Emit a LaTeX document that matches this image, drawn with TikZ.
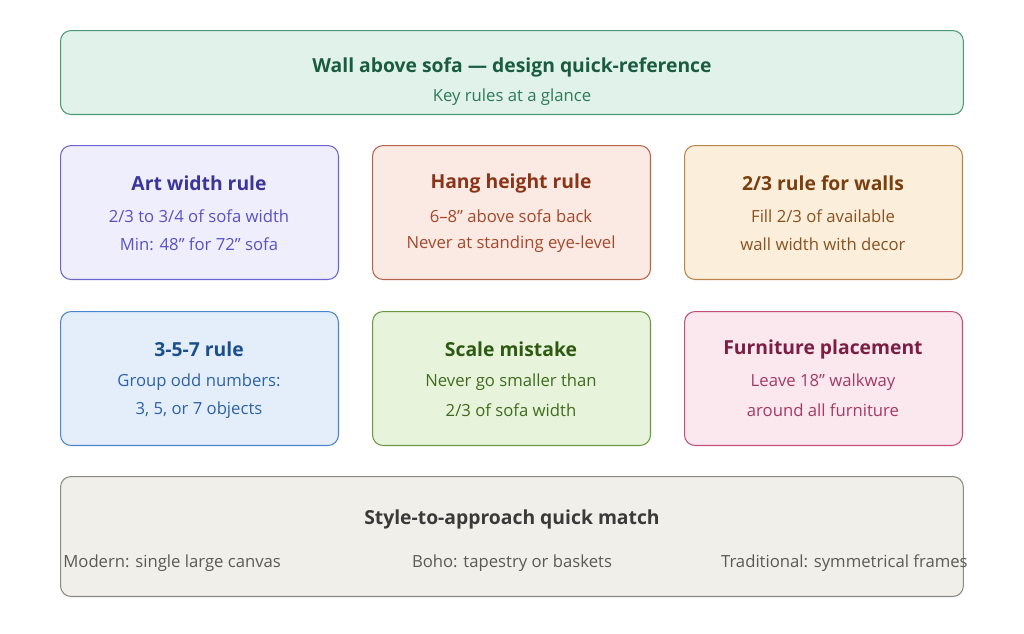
\documentclass[tikz,border=0pt]{standalone}
\usepackage{fontspec}
\setmainfont{Open Sans}
\usetikzlibrary{positioning}
\definecolor{hdfill}{HTML}{E0F2EA}\definecolor{hddraw}{HTML}{4A9A78}\definecolor{hdtitle}{HTML}{1A5C40}\definecolor{hdtext}{HTML}{2E7A58}
\definecolor{pufill}{HTML}{EFEEFD}\definecolor{pudraw}{HTML}{6B63D0}\definecolor{putitle}{HTML}{3C3599}\definecolor{putext}{HTML}{5A52C4}
\definecolor{rdfill}{HTML}{FBEAE4}\definecolor{rddraw}{HTML}{B5644A}\definecolor{rdtitle}{HTML}{8A3418}\definecolor{rdtext}{HTML}{A4482A}
\definecolor{orfill}{HTML}{FBEEDB}\definecolor{ordraw}{HTML}{B8864A}\definecolor{ortitle}{HTML}{7A3F0F}\definecolor{ortext}{HTML}{8A5220}
\definecolor{blfill}{HTML}{E4EEFB}\definecolor{bldraw}{HTML}{4A84CC}\definecolor{bltitle}{HTML}{1A4F8C}\definecolor{bltext}{HTML}{2C62A8}
\definecolor{grfill}{HTML}{E8F3DC}\definecolor{grdraw}{HTML}{6A9A40}\definecolor{grtitle}{HTML}{2D5A10}\definecolor{grtext}{HTML}{3F6B1E}
\definecolor{pkfill}{HTML}{FBE8EF}\definecolor{pkdraw}{HTML}{C0507A}\definecolor{pktitle}{HTML}{7A1E42}\definecolor{pktext}{HTML}{A33A63}
\definecolor{gyfill}{HTML}{F1EFE9}\definecolor{gydraw}{HTML}{8A8A84}\definecolor{gytitle}{HTML}{3A3A38}\definecolor{gytext}{HTML}{5A5A56}
\newcommand{\inch}{\symbol{34}}
\begin{document}
\begin{tikzpicture}[
    x=0.02cm, y=-0.02cm,
    card/.style={rectangle, rounded corners=6pt, line width=0.6pt, minimum width=5.56cm, minimum height=2.68cm, anchor=north west},
    title/.style={font=\bfseries\fontsize{11}{13}\selectfont},
    body/.style={font=\fontsize{9.5}{11}\selectfont},
]
\useasboundingbox (0,0) rectangle (1024,633);

% Header
\node[card, fill=hdfill, draw=hddraw, minimum width=18.06cm, minimum height=1.68cm] (head) at (60,30) {};
\node[title, text=hdtitle] (headtitle) at (512,67) {Wall above sofa — design quick-reference};
\node[body, text=hdtext] (headsub) at (512,97) {Key rules at a glance};

% Cards
\foreach \x/\y/\c/\t/\a/\b [count=\i] in {
    60/145/pu/Art width rule/2\slash 3 to 3\slash 4 of sofa width/Min: 48\inch\ for 72\inch\ sofa,
    372/145/rd/Hang height rule/6–8\inch\ above sofa back/Never at standing eye-level,
    684/145/or/2\slash 3 rule for walls/Fill 2\slash 3 of available/wall width with decor,
    60/311/bl/3-5-7 rule/Group odd numbers:/{3, 5, or 7 objects},
    372/311/gr/Scale mistake/Never go smaller than/2\slash 3 of sofa width,
    684/311/pk/Furniture placement/Leave 18\inch\ walkway/around all furniture}{
  \node[card, fill=\c fill, draw=\c draw] (card\i) at (\x,\y) {};
  \node[title, text=\c title] (cardtitle\i) at (\x+139,\y+38) {\t};
  \node[body, text=\c text] (cardline\i a) at (\x+139,\y+71) {\a};
  \node[body, text=\c text] (cardline\i b) at (\x+139,\y+99) {\b};
}

% Bottom
\node[card, fill=gyfill, draw=gydraw, minimum width=18.06cm, minimum height=2.4cm] (match) at (60,476) {};
\node[title, text=gytitle] (matchtitle) at (512,519) {Style-to-approach quick match};
\node[body, text=gytext, anchor=west, inner sep=0pt] (modern) at (63,563) {Modern: single large canvas};
\node[body, text=gytext] (boho) at (512,563) {Boho: tapestry or baskets};
\node[body, text=gytext, anchor=east, inner sep=0pt] (trad) at (968,563) {Traditional: symmetrical frames};
\end{tikzpicture}
\end{document}
